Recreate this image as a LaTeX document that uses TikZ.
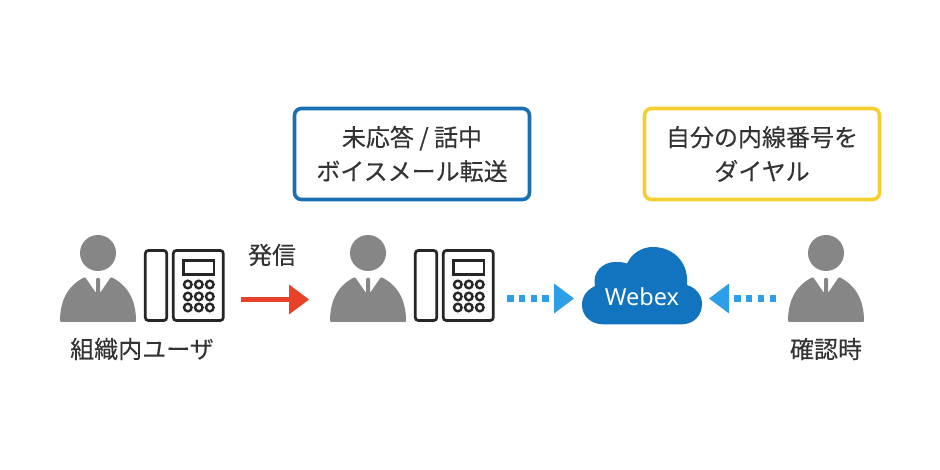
\documentclass[tikz,border=0pt]{standalone}
\usepackage{fontspec}
\setmainfont{Noto Sans CJK JP}[RawFeature={embolden=0.2}]
\newfontfamily\latinlabel{Noto Sans}
\usetikzlibrary{calc}
\definecolor{ink}{HTML}{333333}
\definecolor{persongray}{HTML}{868686}
\definecolor{boxblue}{HTML}{1A6FB0}
\definecolor{boxyellow}{HTML}{F3D02F}
\definecolor{cloudblue}{HTML}{1273BF}
\definecolor{dotblue}{HTML}{2E9FE6}
\definecolor{callred}{HTML}{E8412A}
\tikzset{
  x=1pt,y=-1pt,
  label text/.style={text=ink,font=\fontsize{24}{28}\selectfont,inner sep=0pt,align=center},
  callout/.style={draw=#1,line width=3.6pt,rounded corners=7pt,fill=white,minimum width=235pt,minimum height=91pt,inner sep=0pt,text=ink,align=center,font=\fontsize{24}{34}\selectfont},
  line part/.style={draw=black!85,line width=2.7pt,fill=white},
  dots/.style={draw=dotblue,line width=6.7pt,dash pattern=on 6.5pt off 5.3pt},
  person/.pic={
    \fill[persongray] (0,-36) circle[radius=18];
    \fill[persongray,rounded corners=1pt] (-38,33) .. controls (-38,10) and (-29,-4) .. (-13,-12)
      -- (-2,4) -- (-2,-11) -- (2,-11) -- (2,4) -- (13,-12)
      .. controls (29,-4) and (38,10) .. (38,33) -- cycle;
  },
  phone/.pic={
    \draw[line part,rounded corners=3pt] (0,0) rectangle (21.5,70);
    \draw[line part,rounded corners=3pt] (28,0) rectangle (78,70);
    \draw[line part,line width=2.4pt] (38,10) rectangle (68.5,24);
    \foreach \cx in {42.5,53.5,64.5} \foreach \cy in {34,46,57}
      \draw[line part,line width=2.4pt] (\cx,\cy) circle[radius=3.8];
  }
}
\begin{document}
\begin{tikzpicture}
\useasboundingbox (0,0) rectangle (940,470);
\fill[white] (0,0) rectangle (940,470);
% people and phones
\pic at (98,289) {person};
\pic at (145.3,250.5) {phone};
\pic at (368,289) {person};
\pic at (415.3,250.5) {phone};
\pic at (826,289) {person};
% call-outs
\node[callout=boxblue] (unanswered) at (412,154) {\raisebox{-2pt}{未応答 / 話中}\\\raisebox{-2pt}{ボイスメール転送}};
\node[callout=boxyellow] (dial) at (762,154) {\raisebox{-2pt}{自分の内線番号を}\\\raisebox{-2pt}{ダイヤル}};
% labels
\node[label text] (caller) at (142,349) {組織内ユーザ};
\node[label text] (hatsu) at (272,255) {発信};
\node[label text] (check) at (826,349) {確認時};
% cloud
\fill[cloudblue] (603,324.3)
  .. controls (591,324.3) and (582,316) .. (582,305)
  .. controls (582,296) and (587,290) .. (595,286)
  .. controls (592,272) and (603,262) .. (615,262)
  .. controls (619,262) and (623,262) .. (627,263.5)
  .. controls (632,253) and (642,247) .. (653,247)
  .. controls (672,247) and (689,261) .. (687,285)
  .. controls (696,288) and (702,295) .. (702,304)
  .. controls (702,316) and (693,324.3) .. (682,324.3) -- cycle;
\node[inner sep=0pt,text=white,font=\latinlabel\fontsize{23.5}{26}\selectfont] (webex) at (642,297) {Webex};
% connectors
\coordinate (redstart) at (241,299.5);
\coordinate (redneck) at (289,299.5);
\coordinate (redtip) at (309,299.5);
\draw[callred,line width=5pt] (redstart) -- (redneck);
\fill[callred] (redtip) -- ($(redneck)+(0,-15)$) -- ($(redneck)+(0,15)$) -- cycle;
\coordinate (ls) at (507,298.5);
\coordinate (le) at (549,298.5);
\coordinate (ln) at (554,298.5);
\coordinate (lt) at (574,298.5);
\draw[dots] (ls) -- (le);
\fill[dotblue] (lt) -- ($(ln)+(0,-15)$) -- ($(ln)+(0,15)$) -- cycle;
\coordinate (rs) at (776,298.5);
\coordinate (re) at (734,298.5);
\coordinate (rn) at (729,298.5);
\coordinate (rt) at (709,298.5);
\draw[dots] (rs) -- (re);
\fill[dotblue] (rt) -- ($(rn)+(0,-15)$) -- ($(rn)+(0,15)$) -- cycle;
\end{tikzpicture}
\end{document}
